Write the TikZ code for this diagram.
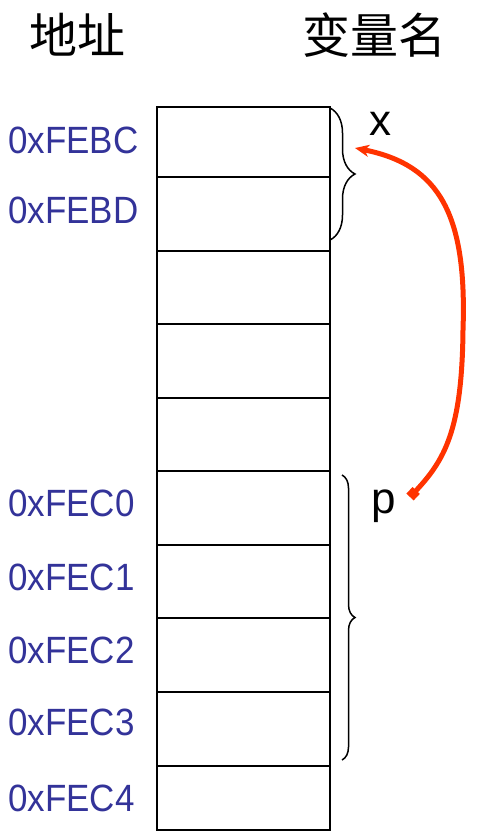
\documentclass[tikz,border=0pt]{standalone}
\usepackage{fontspec}
\setmainfont{Liberation Sans}
\newfontfamily\cjkfont{Noto Sans CJK SC}
\newfontfamily\addrfont[FakeStretch=0.92]{Liberation Sans}
\usetikzlibrary{arrows.meta,decorations.pathreplacing}
\definecolor{addrblue}{RGB}{51,51,153}
\definecolor{ptrred}{RGB}{255,51,0}
\begin{document}
\begin{tikzpicture}[x=1pt,y=-1pt,
  cell/.style={draw, line width=2.5pt, minimum width=173pt, inner sep=0pt, outer sep=0pt},
  addr/.style={anchor=west, text=addrblue, font=\addrfont\fontsize{38}{38}\selectfont, inner sep=0pt},
  head/.style={font=\cjkfont\fontsize{48}{48}\selectfont, inner sep=0pt},
  var/.style={anchor=base, font=\fontsize{44}{44}\selectfont, inner sep=0pt},
  bracestyle/.style={decorate, line width=1.5pt},
  pointer/.style={ptrred, line width=5pt, {Square[length=9pt,width=10pt]}-{Stealth[length=14pt,width=12pt,inset=4pt]}}]
\useasboundingbox (0,0) rectangle (503,833);
\node[head] (haddr) at (77,35) {地址};
\node[head] (hvar) at (374,35) {变量名};
\foreach \t/\b [count=\i] in {107/177,177/251,251/324,324/398,398/471,471/545,545/618,618/692,692/766,766/830}
  \node[cell, minimum height={(\b-\t)*1pt}] (c\i) at (243.5,{(\t+\b)/2}) {};
\node[addr] (a1) at (8,140) {0xFEBC};
\node[addr] (a2) at (8,210) {0xFEBD};
\node[addr] (a6) at (8,503) {0xFEC0};
\node[addr] (a7) at (8,577) {0xFEC1};
\node[addr] (a8) at (8,650) {0xFEC2};
\node[addr] (a9) at (8,722) {0xFEC3};
\node[addr] (a10) at (8,798) {0xFEC4};
\coordinate (xb1) at (330,108);
\coordinate (xb2) at (330,240);
\draw[bracestyle, decoration={brace, amplitude=25pt}] (xb1) -- (xb2);
\coordinate (pb1) at (342,475);
\coordinate (pb2) at (342,760);
\draw[bracestyle, decoration={brace, amplitude=13pt}] (pb1) -- (pb2);
\node[var] (vx) at (380,135) {x};
\node[var] (vp) at (384,513) {p};
\coordinate (ps) at (410,497);
\coordinate (pe) at (355,148);
\draw[pointer] (ps) .. controls (445,460) and (462,430) .. (463,330) .. controls (467,215) and (440,165) .. (pe);
\end{tikzpicture}
\end{document}
